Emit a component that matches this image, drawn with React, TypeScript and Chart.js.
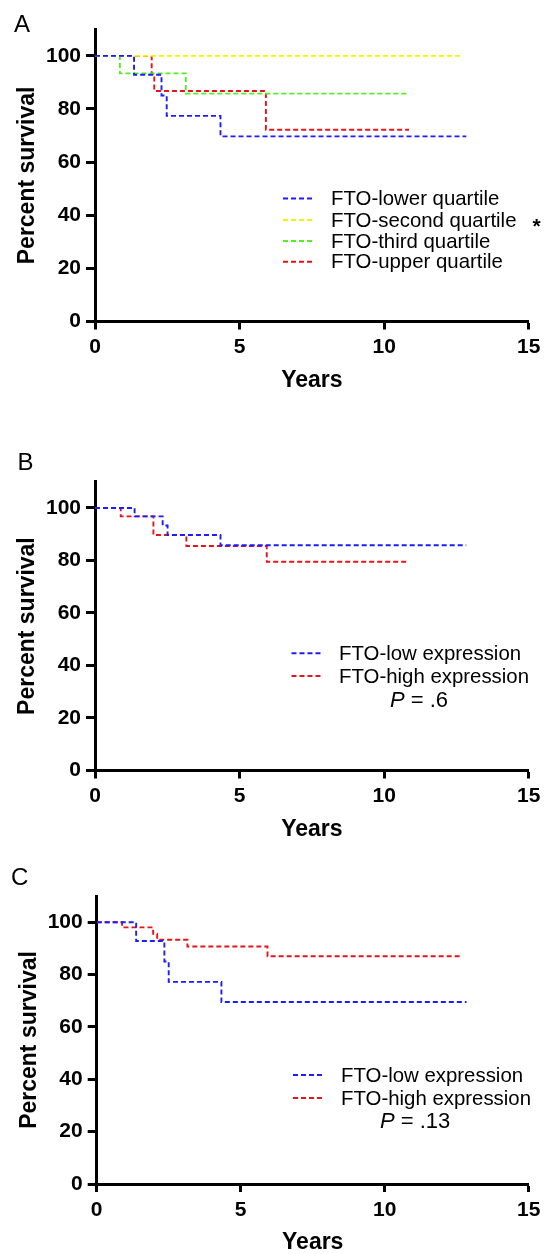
import React, { useEffect, useRef } from 'react';
import { Chart, registerables } from 'chart.js';

Chart.register(...registerables);

const FONT = "'Liberation Sans', Arial, Helvetica, sans-serif";

// ---------- shared axis values ----------
const X_TICKS = [0, 5, 10, 15];
const Y_TICKS = [0, 20, 40, 60, 80, 100];
const X_MAX = 15;
const Y_MAX = 110;
const X_TITLE = 'Years';
const Y_TITLE = 'Percent survival';

// ---------- Panel A ----------
const A_LOWER_T = [0, 1.35, 2.3, 2.48, 4.34, 12.84];
const A_LOWER_S = [100, 92.9, 85.1, 77.4, 69.7, 69.7];
const A_SECOND_T = [0, 12.69];
const A_SECOND_S = [100, 100];
const A_THIRD_T = [0, 0.86, 3.14, 10.8];
const A_THIRD_S = [100, 93.4, 85.8, 85.8];
const A_UPPER_T = [0, 1.96, 2.05, 5.91, 10.86];
const A_UPPER_S = [100, 93.3, 86.8, 72.2, 72.2];
const A_LABELS = ['FTO-lower quartile', 'FTO-second quartile', 'FTO-third quartile', 'FTO-upper quartile'];
const A_MARKS = ['', '*', '', ''];

// ---------- Panel B ----------
const B_LOW_T = [0, 1.37, 2.34, 2.51, 4.34, 12.84];
const B_LOW_S = [100, 96.8, 93.3, 89.7, 85.8, 85.8];
const B_HIGH_T = [0, 0.89, 2.02, 3.16, 5.94, 10.86];
const B_HIGH_S = [100, 96.8, 89.7, 85.5, 79.5, 79.5];
const B_P = '.6';

// ---------- Panel C ----------
const C_LOW_T = [0, 1.37, 2.35, 2.5, 4.33, 12.84];
const C_LOW_S = [100, 92.8, 85.0, 77.2, 69.5, 69.5];
const C_HIGH_T = [0, 0.88, 1.96, 2.1, 3.15, 5.93, 12.66];
const C_HIGH_S = [100, 98.0, 95.6, 93.3, 90.7, 87.0, 87.0];
const C_P = '.13';

const BC_LABELS = ['FTO-low expression', 'FTO-high expression'];

const BLUE = '#1c1cff';
const YELLOW = '#f4f400';
const GREEN = '#55ee22';
const RED = '#e5141a';

type Series = { t: number[]; s: number[]; label: string; color: string; mark?: string };
type PanelCfg = {
  top: number;
  height: number;
  letter: string;
  letterX: number;
  letterY: number;
  areaTop: number;
  areaLeft: number;
  padRight: number;
  xHeight: number;
  xTitlePadBottom: number;
  yTitlePadTop: number;
  series: Series[];
  legend: { x0: number; x1: number; textX: number; rows: number[] };
  p?: { text: string; x: number; y: number };
};

const kmOverlay = {
  id: 'kmOverlay',
  afterDraw(chart: any, _args: any, opts: any) {
    const ctx: CanvasRenderingContext2D = chart.ctx;
    ctx.save();
    ctx.fillStyle = '#000';
    // panel letter
    ctx.font = `24px ${FONT}`;
    ctx.textAlign = 'left';
    ctx.textBaseline = 'alphabetic';
    ctx.fillText(opts.letter, opts.letterX, opts.letterY);
    // legend
    const lg = opts.legend;
    chart.data.datasets.forEach((ds: any, i: number) => {
      const y = lg.rows[i];
      ctx.save();
      ctx.strokeStyle = ds.borderColor;
      ctx.lineWidth = ds.borderWidth;
      ctx.setLineDash(ds.borderDash);
      ctx.beginPath();
      ctx.moveTo(lg.x0, y);
      ctx.lineTo(lg.x1, y);
      ctx.stroke();
      ctx.restore();
      ctx.font = `20.4px ${FONT}`;
      ctx.textBaseline = 'middle';
      ctx.fillStyle = '#000';
      ctx.fillText(ds.label, lg.textX, y + 1);
      const mark = opts.marks ? opts.marks[i] : '';
      if (mark) {
        const w = ctx.measureText(ds.label).width;
        ctx.font = `bold 21px ${FONT}`;
        ctx.fillText(mark, lg.textX + w + 16, y + 7);
      }
    });
    // P value
    if (opts.p) {
      ctx.textBaseline = 'middle';
      ctx.font = `italic 22px ${FONT}`;
      ctx.fillText('P', opts.p.x, opts.p.y);
      const w = ctx.measureText('P').width;
      ctx.font = `22px ${FONT}`;
      ctx.fillText(' = ' + opts.p.text, opts.p.x + w, opts.p.y);
    }
    ctx.restore();
  },
};

function Panel({ cfg }: { cfg: PanelCfg }) {
  const ref = useRef<HTMLCanvasElement>(null);
  useEffect(() => {
    const canvas = ref.current;
    if (!canvas) return;
    const tickFont = { family: FONT, size: 21, weight: 'bold' as const };
    const titleFont = { family: FONT, size: 23, weight: 'bold' as const };
    const chart = new Chart(canvas, {
      type: 'line',
      data: {
        datasets: cfg.series.map((s) => ({
          label: s.label,
          data: s.t.map((t, i) => ({ x: t, y: s.s[i] })),
          borderColor: s.color,
          backgroundColor: s.color,
          borderWidth: 1.9,
          borderDash: [5, 3],
          stepped: 'before' as const,
          pointRadius: 0,
          pointHoverRadius: 0,
          fill: false,
          tension: 0,
        })),
      },
      options: {
        responsive: false,
        animation: false,
        events: [],
        layout: { padding: { top: cfg.areaTop, right: cfg.padRight, left: 0, bottom: 0 } },
        plugins: {
          legend: { display: false },
          tooltip: { enabled: false },
          // @ts-ignore
          kmOverlay: {
            letter: cfg.letter,
            letterX: cfg.letterX,
            letterY: cfg.letterY,
            legend: cfg.legend,
            marks: cfg.series.map((s) => s.mark || ''),
            p: cfg.p,
          },
        },
        scales: {
          x: {
            type: 'linear',
            min: 0,
            max: X_MAX,
            afterBuildTicks: (sc: any) => {
              sc.ticks = X_TICKS.map((v) => ({ value: v }));
            },
            afterFit: (sc: any) => {
              sc.height = cfg.xHeight;
            },
            grid: {
              display: true,
              drawOnChartArea: false,
              drawTicks: true,
              tickLength: 8,
              tickWidth: 3,
              tickColor: '#000',
              color: '#000',
            },
            border: { display: true, color: '#000', width: 3 },
            ticks: { font: tickFont, color: '#000', padding: 5.6, maxRotation: 0, autoSkip: false },
            title: {
              display: true,
              text: X_TITLE,
              font: titleFont,
              color: '#000',
              padding: { top: 0, bottom: cfg.xTitlePadBottom },
            },
          },
          y: {
            type: 'linear',
            min: 0,
            max: Y_MAX,
            afterBuildTicks: (sc: any) => {
              sc.ticks = Y_TICKS.map((v) => ({ value: v }));
            },
            afterFit: (sc: any) => {
              sc.width = cfg.areaLeft;
            },
            grid: {
              display: true,
              drawOnChartArea: false,
              drawTicks: true,
              tickLength: 9,
              tickWidth: 3,
              tickColor: '#000',
              color: '#000',
            },
            border: { display: true, color: '#000', width: 3 },
            ticks: { font: tickFont, color: '#000', padding: 5 },
            title: {
              display: true,
              text: Y_TITLE,
              font: titleFont,
              color: '#000',
              padding: { top: cfg.yTitlePadTop, bottom: 0 },
            },
          },
        },
      },
      plugins: [kmOverlay as any],
    } as any);
    return () => chart.destroy();
  }, [cfg]);
  return (
    <canvas
      ref={ref}
      width={546}
      height={cfg.height}
      style={{ position: 'absolute', left: 0, top: cfg.top, display: 'block' }}
    />
  );
}

const PANEL_A: PanelCfg = {
  top: 0,
  height: 400,
  letter: 'A',
  letterX: 14,
  letterY: 32,
  areaTop: 29.3,
  areaLeft: 95,
  padRight: 14,
  xHeight: 400 - 321.5,
  xTitlePadBottom: 5.6,
  yTitlePadTop: 14,
  series: [
    { t: A_LOWER_T, s: A_LOWER_S, label: A_LABELS[0], color: BLUE, mark: A_MARKS[0] },
    { t: A_SECOND_T, s: A_SECOND_S, label: A_LABELS[1], color: YELLOW, mark: A_MARKS[1] },
    { t: A_THIRD_T, s: A_THIRD_S, label: A_LABELS[2], color: GREEN, mark: A_MARKS[2] },
    { t: A_UPPER_T, s: A_UPPER_S, label: A_LABELS[3], color: RED, mark: A_MARKS[3] },
  ],
  legend: { x0: 283, x1: 314, textX: 331, rows: [198.5, 220, 241, 261.7] },
};

const PANEL_B: PanelCfg = {
  top: 430,
  height: 420,
  letter: 'B',
  letterX: 17.5,
  letterY: 40,
  areaTop: 51.7,
  areaLeft: 95,
  padRight: 14,
  xHeight: 420 - 340.5,
  xTitlePadBottom: 6.1,
  yTitlePadTop: 14,
  series: [
    { t: B_LOW_T, s: B_LOW_S, label: BC_LABELS[0], color: BLUE },
    { t: B_HIGH_T, s: B_HIGH_S, label: BC_LABELS[1], color: RED },
  ],
  legend: { x0: 291.5, x1: 321.5, textX: 339, rows: [223.3, 246] },
  p: { text: B_P, x: 390, y: 271 },
};

const PANEL_C: PanelCfg = {
  top: 850,
  height: 404,
  letter: 'C',
  letterX: 11,
  letterY: 35,
  areaTop: 46,
  areaLeft: 96.7,
  padRight: 13,
  xHeight: 404 - 334,
  xTitlePadBottom: -2.9,
  yTitlePadTop: 15.5,
  series: [
    { t: C_LOW_T, s: C_LOW_S, label: BC_LABELS[0], color: BLUE },
    { t: C_HIGH_T, s: C_HIGH_S, label: BC_LABELS[1], color: RED },
  ],
  legend: { x0: 293, x1: 324, textX: 341, rows: [225, 248] },
  p: { text: C_P, x: 380, y: 272 },
};

export default function App() {
  return (
    <div
      style={{
        position: 'absolute',
        left: 0,
        top: 0,
        width: 546,
        height: 1254,
        overflow: 'hidden',
        background: '#fff',
      }}
    >
      <Panel cfg={PANEL_A} />
      <Panel cfg={PANEL_B} />
      <Panel cfg={PANEL_C} />
    </div>
  );
}
